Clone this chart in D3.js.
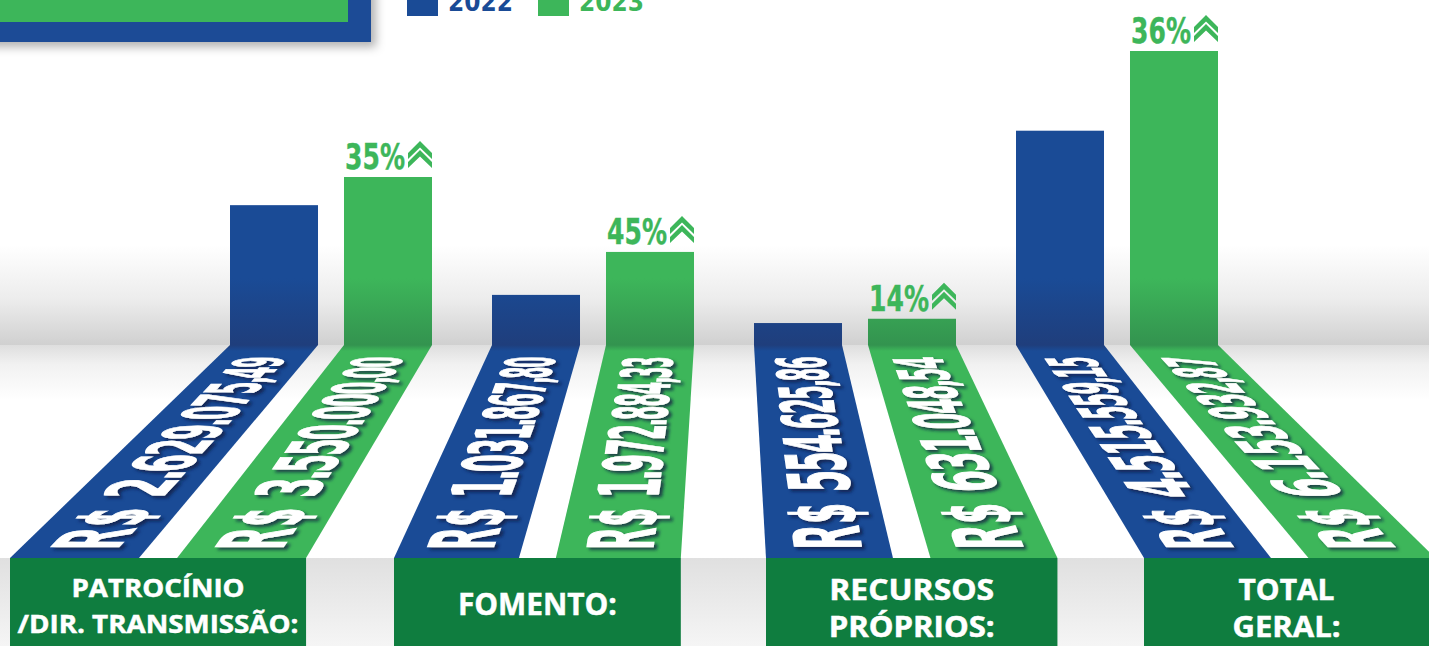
<!DOCTYPE html>
<html>
<head>
<meta charset="utf-8">
<script src="https://cdn.jsdelivr.net/npm/d3@7"></script>
<style>
html, body { margin: 0; padding: 0; background: #fff; overflow: hidden; }
svg { display: block; }
</style>
</head>
<body>
<div id="chart"></div>
<script>
const categories = ["patrocinio", "fomento", "recursos", "total"];
const years = ["2022", "2023"];
// bar levels as drawn in the picture, in R$ millions
const levels2022 = [2.93, 1.05, 0.46, 4.49];
const levels2023 = [3.52, 1.95, 0.55, 6.16];
const money2022 = ["R$ 2.629.075,49", "R$ 1.031.867,80", "R$ 554.625,86", "R$ 4.515.559,15"];
const money2023 = ["R$ 3.550.000,00", "R$ 1.972.884,33", "R$ 631.048,54", "R$ 6.153.932,87"];
const growth = ["35%", "45%", "14%", "36%"];
const panelLines = [["PATROCÍNIO", "/DIR. TRANSMISSÃO:"], ["FOMENTO:"], ["RECURSOS", "PRÓPRIOS:"], ["TOTAL", "GERAL:"]];

const width = 1429, height = 646;
const baseY = 345, footY = 558;
const BLUE = "#1a4b96", GREEN = "#3db65a", PANEL = "#0f7d3f";
const SLAB_FONT = "'DejaVu Sans Mono', 'Liberation Mono', monospace";
const BLOCK_FONT = "'DejaVu Sans', 'Liberation Sans', sans-serif";

const svg = d3.select("#chart").append("svg").attr("width", width).attr("height", height);
const defs = svg.append("defs");

function gradient(id, y1, y2, stops) {
    const g = defs.append("linearGradient").attr("id", id)
        .attr("gradientUnits", "userSpaceOnUse")
        .attr("x1", 0).attr("x2", 0).attr("y1", y1).attr("y2", y2);
    stops.forEach(s => g.append("stop").attr("offset", s[0]).attr("stop-color", s[1]));
}
gradient("wall", 245, baseY, [[0, "#ffffff"], [0.55, "#ececec"], [1, "#d0d0d0"]]);
gradient("floor", baseY, 400, [[0, "#dedede"], [0.35, "#f1f1f1"], [1, "#ffffff"]]);
gradient("under", footY, height, [[0, "#e0e0e0"], [1, "#f5f5f5"]]);
gradient("blueFill", 230, 351, [[0, BLUE], [0.4, BLUE], [0.95, "#1f3e7c"], [1, BLUE]]);
gradient("greenFill", 230, 351, [[0, GREEN], [0.4, GREEN], [0.95, "#33934f"], [1, GREEN]]);

const shadow = defs.append("filter").attr("id", "glyphShadow")
    .attr("x", "-20%").attr("y", "-20%").attr("width", "150%").attr("height", "150%");
shadow.append("feDropShadow").attr("dx", 3).attr("dy", 2.5).attr("stdDeviation", 1.6)
    .attr("flood-color", "#0d1d40").attr("flood-opacity", 0.75);
const boxShadow = defs.append("filter").attr("id", "boxShadow")
    .attr("x", "-10%").attr("y", "-10%").attr("width", "125%").attr("height", "140%");
boxShadow.append("feDropShadow").attr("dx", 5).attr("dy", 5).attr("stdDeviation", 5)
    .attr("flood-color", "#000").attr("flood-opacity", 0.3);

// scenery
svg.append("rect").attr("width", width).attr("height", baseY).attr("fill", "url(#wall)");
svg.append("rect").attr("y", baseY).attr("width", width).attr("height", footY - baseY).attr("fill", "url(#floor)");
svg.append("rect").attr("y", footY).attr("width", width).attr("height", height - footY).attr("fill", "url(#under)");

// title box, cut off by the top of the picture
svg.append("rect").attr("x", -20).attr("y", -40).attr("width", 391).attr("height", 82)
    .attr("fill", BLUE).attr("filter", "url(#boxShadow)");
svg.append("rect").attr("x", -20).attr("y", -40).attr("width", 368).attr("height", 62).attr("fill", GREEN);

// scales
const x0 = d3.scaleBand().domain(categories).range([230, 1218]).paddingInner(60 / 262);
const x1 = d3.scaleBand().domain(years).range([0, x0.bandwidth()]).paddingInner(0.228);
const y = d3.scaleLinear().domain([0, 6.16]).range([baseY, 51]);
// where a bar's x lands at the front edge of the floor
const foot = d3.scaleLinear().domain([230, 492, 754, 1016, 1278]).range([10, 394, 766, 1144, 1522]);

const rows = [];
categories.forEach((c, i) => {
    rows.push({ cat: c, year: "2022", level: levels2022[i], money: money2022[i], fill: "url(#blueFill)" });
    rows.push({ cat: c, year: "2023", level: levels2023[i], money: money2023[i], fill: "url(#greenFill)", growth: growth[i] });
});
rows.forEach(d => {
    d.x = x0(d.cat) + x1(d.year);
    d.w = x1.bandwidth();
    d.fx = foot(d.x);
    d.fw = foot(d.x + d.w) - d.fx;
});

// bars
svg.append("g").selectAll("rect").data(rows).join("rect")
    .attr("x", d => d.x).attr("y", d => y(d.level))
    .attr("width", d => d.w).attr("height", d => y(0) - y(d.level))
    .attr("fill", d => d.fill);

// strips running down the floor
svg.append("g").selectAll("path").data(rows).join("path")
    .attr("d", d => d3.line()([[d.x, baseY], [d.x + d.w, baseY], [d.fx + d.fw, footY], [d.fx, footY]]) + "Z")
    .attr("fill", d => d.fill);

// footer panels span the two strips of each group
const panels = svg.append("g").selectAll("g").data(categories).join("g");
panels.append("rect")
    .attr("x", c => foot(x0(c)))
    .attr("y", footY)
    .attr("width", c => foot(x0(c) + x0.bandwidth()) - foot(x0(c)))
    .attr("height", height - footY)
    .attr("fill", PANEL);

const panelSize = [[25, 25], [30], [29, 28], [29, 28]];
const panelBase = [[597, 633], [615], [600, 637], [600, 637]];
const panelFit = [[173, 281], [159], [165, 166], [96, 108]];
categories.forEach((c, i) => {
    const cx = (foot(x0(c)) + Math.min(foot(x0(c) + x0.bandwidth()), width)) / 2;
    panelLines[i].forEach((line, j) => {
        svg.append("text")
            .attr("x", cx).attr("y", panelBase[i][j])
            .attr("text-anchor", "middle")
            .attr("font-family", "'Open Sans', sans-serif")
            .attr("font-weight", 700)
            .attr("font-size", panelSize[i][j])
            .attr("textLength", panelFit[i][j])
            .attr("lengthAdjust", "spacingAndGlyphs")
            .attr("fill", "#fff")
            .attr("stroke", "#fff")
            .attr("stroke-width", 0.5)
            .text(line);
    });
});

// amounts painted on the strips, one glyph at a time so they follow the perspective
const FONT_SIZE = 40, CAP = 0.73 * FONT_SIZE, CELL = 0.65 * FONT_SIZE;
const advance = ch => (ch === "." || ch === "," ? 0.4 : ch === " " ? 0.5 : 1) * CELL;
const textBottom = 550, textTop = 357, DEPTH = 1.55;

const amounts = svg.append("g").attr("filter", "url(#glyphShadow)");
rows.forEach(d => {
    const chars = Array.from(d.money);
    const total = d3.sum(chars, advance);
    const run = textBottom - textTop;
    const stripT = yy => (yy - baseY) / (footY - baseY);
    const centre = yy => {
        const t = stripT(yy);
        return (d.x + d.w / 2) + t * (d.fx + d.fw / 2 - d.x - d.w / 2);
    };
    const stripWidth = yy => d.w + stripT(yy) * (d.fw - d.w);
    const slope = (centre(baseY) - centre(footY)) / (footY - baseY);
    const along = u => run * (u * DEPTH) / (1 + u * (DEPTH - 1));
    let pen = 0;
    chars.forEach(ch => {
        const adv = advance(ch);
        const u0 = pen / total, u1 = (pen + adv) / total;
        const y0 = textBottom - along(u0), y1 = textBottom - along(u1);
        const perFlat = (y0 - y1) / adv;
        const across = 0.54 * stripWidth((y0 + y1) / 2) / CAP;
        const ox = centre(y0) + across * CAP / 2;
        amounts.append("text")
            .attr("transform", `matrix(${slope * perFlat},${-perFlat},${across},0,${ox},${y0})`)
            .attr("x", adv / 2)
            .attr("text-anchor", "middle")
            .attr("font-family", ch === "R" || ch === "$" ? SLAB_FONT : BLOCK_FONT)
            .attr("font-weight", 700)
            .attr("font-size", FONT_SIZE)
            .attr("fill", "#fff")
            .attr("stroke", "#fff")
            .attr("stroke-width", 0.8)
            .text(ch);
        pen += adv;
    });
});

// growth figures over the 2023 bars
const chevron = "M0,12 L12,0 L24,12 L24,18 L12,6.5 L0,18 Z";
const growthRows = rows.filter(d => d.growth);
const tags = svg.append("g").selectAll("g").data(growthRows).join("g")
    .attr("transform", d => `translate(${d.x + d.w},${y(d.level) - 8})`);
tags.append("text")
    .attr("x", -27).attr("text-anchor", "end")
    .attr("font-family", BLOCK_FONT)
    .attr("font-weight", 700)
    .attr("font-size", 36)
    .attr("textLength", 60)
    .attr("lengthAdjust", "spacingAndGlyphs")
    .attr("fill", GREEN)
    .attr("stroke", GREEN)
    .attr("stroke-width", 0.4)
    .text(d => d.growth);
tags.selectAll("path").data([-28, -19]).join("path")
    .attr("d", chevron)
    .attr("transform", dy => `translate(-24,${dy})`)
    .attr("fill", GREEN);

// legend, also cut off by the top edge
const legend = svg.append("g").selectAll("g").data(years).join("g");
const legendX = d3.scalePoint().domain(years).range([407, 538]);
legend.append("rect")
    .attr("x", d => legendX(d)).attr("y", -10)
    .attr("width", 31).attr("height", 26)
    .attr("fill", (d, i) => i ? GREEN : BLUE);
legend.append("text")
    .attr("x", d => legendX(d) + 41).attr("y", 11)
    .attr("font-family", BLOCK_FONT)
    .attr("font-weight", 700)
    .attr("font-size", 27)
    .attr("textLength", 65)
    .attr("lengthAdjust", "spacingAndGlyphs")
    .attr("fill", (d, i) => i ? GREEN : BLUE)
    .text(d => d);
</script>
</body>
</html>
